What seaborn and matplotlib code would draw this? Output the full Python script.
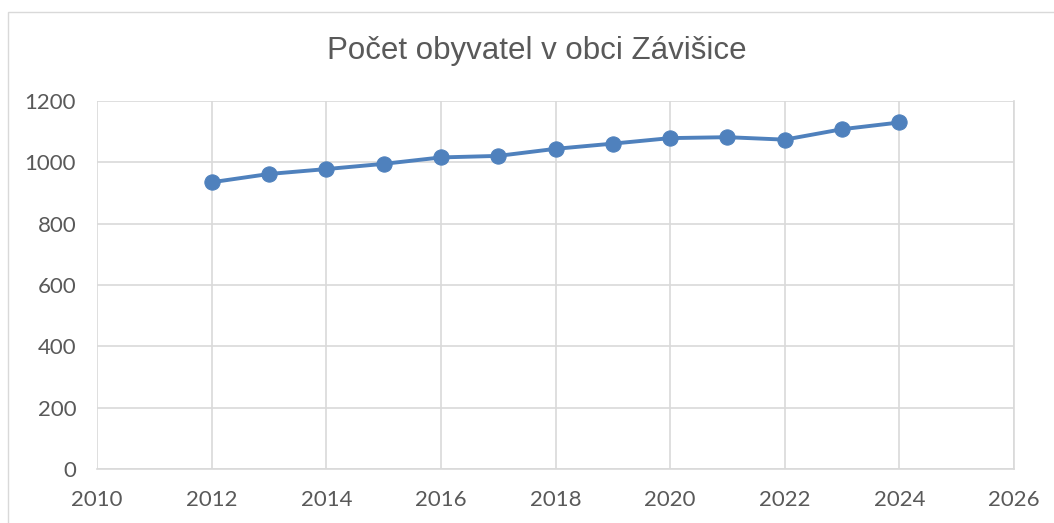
import matplotlib
matplotlib.use("Agg")
import matplotlib.pyplot as plt
from matplotlib.patches import Rectangle
import seaborn as sns
import pandas as pd

# Population of Závišice by year
years = [2012, 2013, 2014, 2015, 2016, 2017, 2018, 2019, 2020, 2021, 2022, 2023, 2024]
population = [935, 962, 978, 995, 1016, 1021, 1044, 1061, 1079, 1082, 1074, 1108, 1130]

x_ticks = [2010, 2012, 2014, 2016, 2018, 2020, 2022, 2024, 2026]
y_ticks = [0, 200, 400, 600, 800, 1000, 1200]
title = "Počet obyvatel v obci Závišice"

sns.set_theme(style="white")
plt.rcParams["font.family"] = ["Lato", "DejaVu Sans"]

df = pd.DataFrame({"rok": years, "obyvatel": population})

fig = plt.figure(figsize=(10.54, 5.23), dpi=100)
fig.patch.set_facecolor("white")

# chart frame
fig.patches.append(Rectangle((8 / 1054, -0.05), 1.1, 1.05 - 12 / 523,
                             transform=fig.transFigure, fill=False,
                             edgecolor="#d9d9d9", linewidth=1.0))

ax = fig.add_axes([97 / 1054, 54 / 523, (1014 - 97) / 1054, (469 - 101) / 523])

sns.lineplot(data=df, x="rok", y="obyvatel", ax=ax, color="#4f81bd",
             linewidth=2.8, marker="o", markersize=11,
             markeredgecolor="#4f81bd", markerfacecolor="#4f81bd", zorder=3)

ax.set_xlim(x_ticks[0], x_ticks[-1])
ax.set_ylim(y_ticks[0], y_ticks[-1])
ax.set_xticks(x_ticks)
ax.set_yticks(y_ticks)
ax.set_xlabel("")
ax.set_ylabel("")

ax.grid(True, color="#d9d9d9", linewidth=1.2)
ax.set_axisbelow(True)
for side, sp in ax.spines.items():
    sp.set_color("#d9d9d9")
    sp.set_linewidth(1.2)
ax.spines["left"].set_visible(False)
ax.spines["top"].set_visible(False)

ax.tick_params(axis="both", length=0, labelsize=16, labelcolor="#595959")
ax.tick_params(axis="y", pad=15)
ax.tick_params(axis="x", pad=15)

fig.text(537 / 1054, 1 - 51 / 523, title, ha="center", va="center",
         fontsize=22.5, color="#595959", family=["Liberation Sans", "DejaVu Sans"])

fig.savefig("out.png", dpi=100)
